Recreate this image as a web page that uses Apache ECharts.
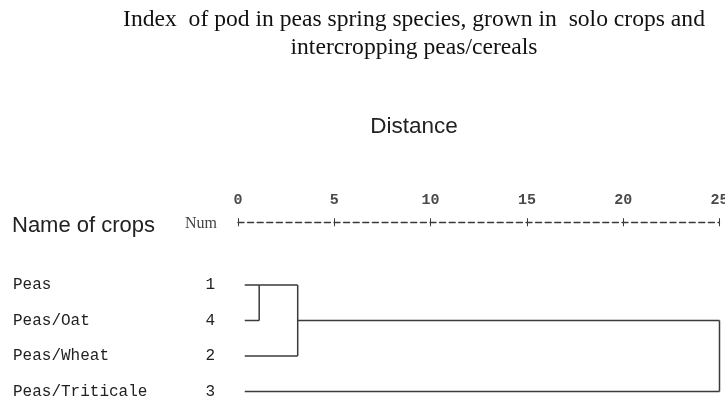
<!DOCTYPE html>
<html lang="en">

<head>
    <meta charset="UTF-8">
    <title>dendrogram</title>
    <script src="https://cdn.jsdelivr.net/npm/echarts@6.0.0/dist/echarts.min.js"></script>
    <style>
        html, body { margin: 0; padding: 0; background: #fff; }
    </style>
</head>

<body>
    <div id="chart" style="width:725px;height:402px;"></div>
</body>
<script>
    // crops in dendrogram order
    var cropNames = ['Peas', 'Peas/Oat', 'Peas/Wheat', 'Peas/Triticale'];
    var cropNums = ['1', '4', '2', '3'];
    var distTicks = [0, 5, 10, 15, 20, 25];
    // merges: children (r = row, m = merge), distance, row where cluster line leaves
    var mergeChildren = [['r0', 'r1'], ['m0', 'r2'], ['m1', 'r3']];
    var mergeDist = [1.1, 3.1, 25];
    var mergeRow = [0, 1, 2];
    var leafStart = 0.35;

    function childPos(c) {
        var i = +c.slice(1);
        if (c[0] == 'r') return { x: leafStart, y: i };
        return { x: mergeDist[i], y: mergeRow[i] };
    }

    var segs = [];
    mergeChildren.forEach(function (ch, i) {
        var d = mergeDist[i];
        var ys = [];
        ch.forEach(function (c) {
            var p = childPos(c);
            segs.push([[p.x, p.y], [d, p.y]]);
            ys.push(p.y);
        });
        segs.push([[d, Math.min.apply(null, ys)], [d, Math.max.apply(null, ys)]]);
    });

    var series = segs.map(function (s) {
        return {
            type: 'line',
            data: s,
            symbol: 'none',
            silent: true,
            lineStyle: { color: '#3a3a3a', width: 1.5 }
        };
    });

    var myChart = echarts.init(document.getElementById('chart'));
    var option = {
        animation: false,
        title: [{
            text: 'Index  of pod in peas spring species, grown in  solo crops and\nintercropping peas/cereals',
            left: 414,
            top: 6,
            padding: 0,
            textAlign: 'center',
            textStyle: { fontFamily: 'Liberation Serif', fontSize: 23.6, fontWeight: 'normal', color: '#111', lineHeight: 28 }
        }, {
            text: 'Distance',
            left: 414,
            top: 115,
            padding: 0,
            textAlign: 'center',
            textStyle: { fontFamily: 'Liberation Sans', fontSize: 22.5, fontWeight: 'normal', color: '#222' }
        }, {
            text: 'Name of crops',
            left: 12,
            top: 215,
            padding: 0,
            textStyle: { fontFamily: 'Liberation Sans', fontSize: 22, fontWeight: 'normal', color: '#222' }
        }, {
            text: 'Num',
            left: 185,
            top: 216,
            padding: 0,
            textStyle: { fontFamily: 'Liberation Serif', fontSize: 16, fontWeight: 'normal', color: '#444' }
        }],
        grid: { left: 238, right: 5.5, top: 267.25, height: 142, outerBoundsMode: 'none', containLabel: false },
        xAxis: [{
            type: 'value',
            min: 0,
            max: 25,
            interval: 5,
            position: 'top',
            offset: 45,
            axisLine: { show: true, lineStyle: { color: '#3a3a3a', width: 1.4, type: [6, 3.6] } },
            axisTick: { show: true, length: 4, lineStyle: { color: '#3a3a3a' } },
            axisLabel: {
                margin: 15,
                fontFamily: 'Liberation Mono', fontSize: 15, fontWeight: 'bold', color: '#4a4a4a',
                formatter: function (v) { return distTicks.indexOf(v) >= 0 ? String(v) : ''; }
            },
            splitLine: { show: false }
        }, {
            type: 'value',
            min: 0,
            max: 25,
            interval: 5,
            position: 'top',
            offset: 45,
            axisLine: { show: false },
            axisTick: { show: true, inside: true, length: 4, lineStyle: { color: '#3a3a3a' } },
            axisLabel: { show: false },
            splitLine: { show: false }
        }],
        yAxis: [{
            type: 'category',
            inverse: true,
            data: cropNames,
            axisLine: { show: false },
            axisTick: { show: false },
            axisLabel: { align: 'left', margin: 225, fontFamily: 'Liberation Mono', fontSize: 16, color: '#222' }
        }, {
            type: 'category',
            inverse: true,
            position: 'left',
            data: cropNums,
            axisLine: { show: false },
            axisTick: { show: false },
            axisLabel: { align: 'right', margin: 23, fontFamily: 'Liberation Mono', fontSize: 16, color: '#222' }
        }],
        series: series
    };
    myChart.setOption(option);
</script>

</html>
